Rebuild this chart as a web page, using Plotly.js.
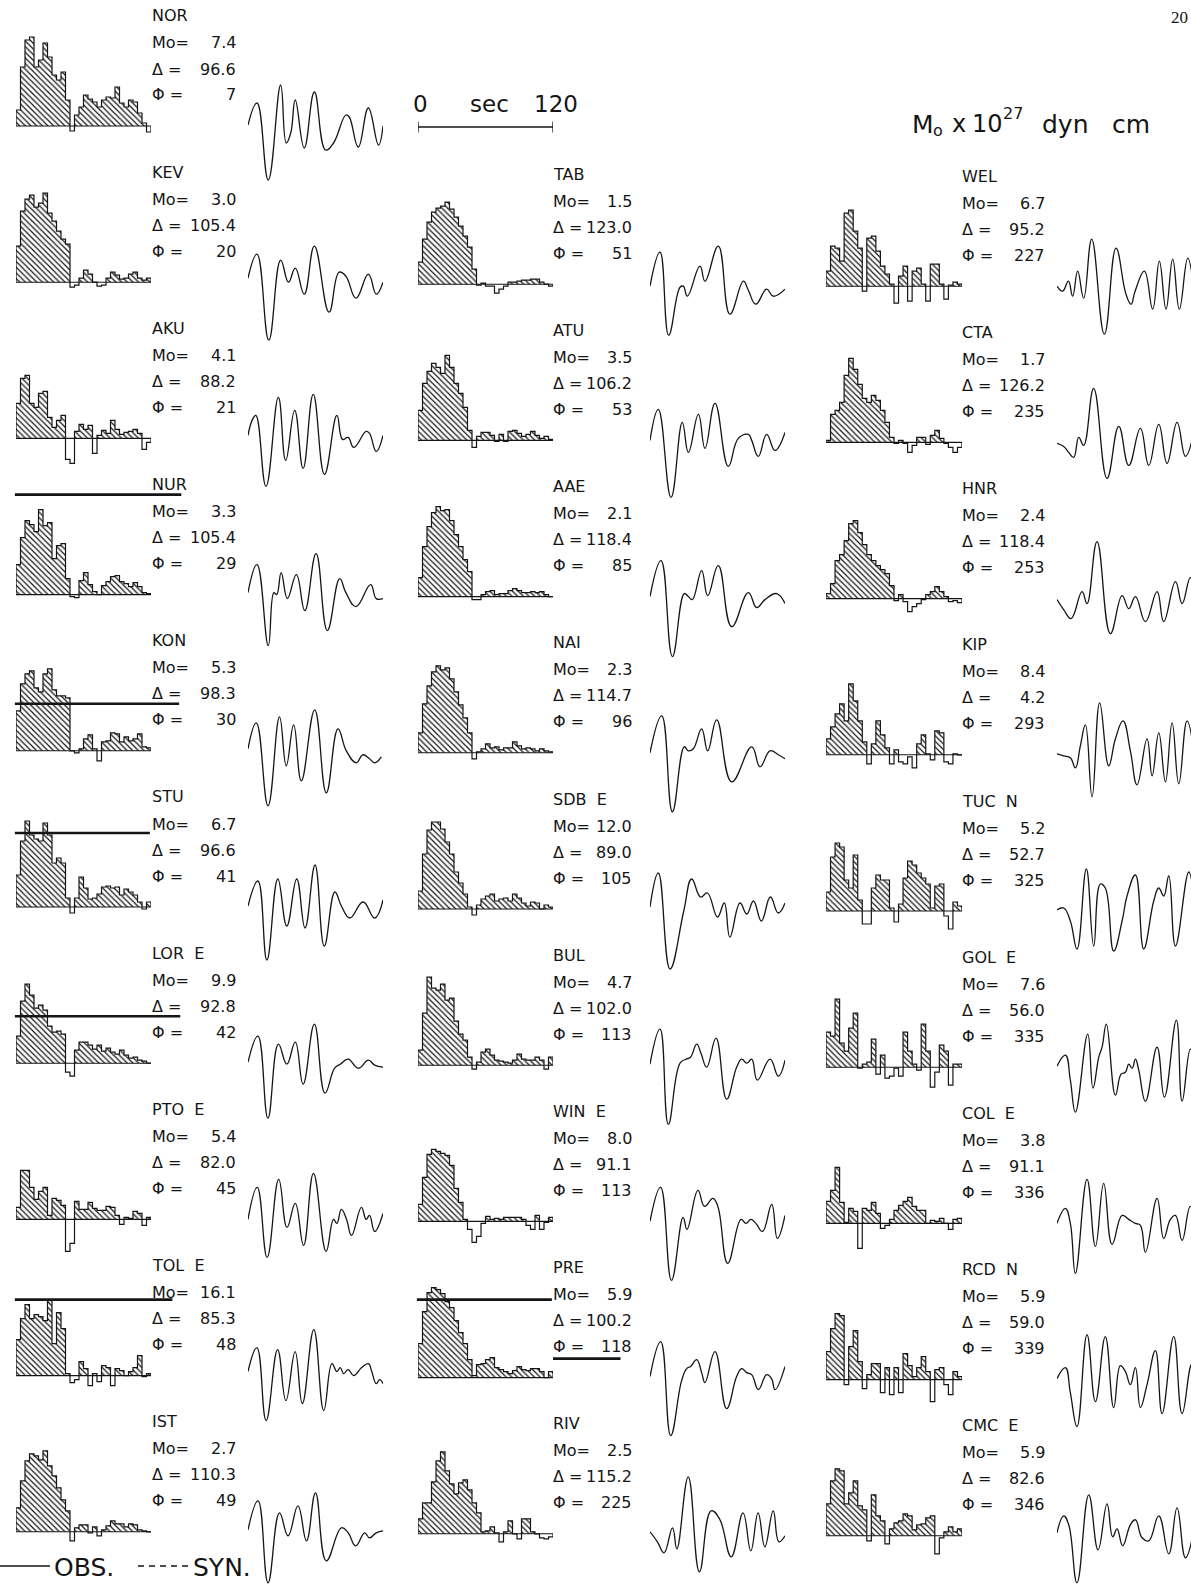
<!DOCTYPE html>
<html><head><meta charset="utf-8">
<script src="https://cdn.plot.ly/plotly-3.0.1.min.js"></script>
<style>html,body{margin:0;padding:0;background:#fff;}#chart{width:1191px;height:1585px;}</style>
</head><body><div id="chart"></div>
<script>
// ---------------- DATA ----------------
const stations = ['NOR','KEV','AKU','NUR','KON','STU','LOR','PTO','TOL','IST',
                  'TAB','ATU','AAE','NAI','SDB','BUL','WIN','PRE','RIV',
                  'WEL','CTA','HNR','KIP','TUC','GOL','COL','RCD','CMC'];
const components = ['','','','','','','E','E','E','',
                    '','','','','E','','E','','',
                    '','','','','N','E','E','N','E'];
const moValues = ['7.4','3.0','4.1','3.3','5.3','6.7','9.9','5.4','16.1','2.7',
                  '1.5','3.5','2.1','2.3','12.0','4.7','8.0','5.9','2.5',
                  '6.7','1.7','2.4','8.4','5.2','7.6','3.8','5.9','5.9'];
const deltaValues = ['96.6','105.4','88.2','105.4','98.3','96.6','92.8','82.0','85.3','110.3',
                     '123.0','106.2','118.4','114.7','89.0','102.0','91.1','100.2','115.2',
                     '95.2','126.2','118.4','4.2','52.7','56.0','91.1','59.0','82.6'];
const phiValues = ['7','20','21','29','30','41','42','45','48','49',
                   '51','53','85','96','105','113','113','118','225',
                   '227','235','253','293','325','335','336','339','346'];

// source time functions, 4-s bins from 0 to 120 s
const stfNOR = [16,59,86,89,59,66,83,69,51,46,54,26,-5,11,19,31,27,24,19,26,29,28,39,23,19,26,24,13,3,-6];
const stfKEV = [36,71,83,87,75,79,89,69,61,51,43,38,-5,-3,4,12,8,0,-4,-3,4,10,7,3,4,8,10,4,2,4];
const stfAKU = [35,60,63,35,31,45,47,21,11,18,23,-21,-25,7,14,9,13,-15,3,8,5,18,9,4,6,7,9,5,-11,-4];
const stfNUR = [30,57,74,70,63,85,69,72,36,49,51,16,-2,-3,14,22,10,3,0,9,13,18,19,13,11,8,12,8,2,1];
const stfKON = [40,67,77,80,63,59,77,82,61,55,55,53,0,-2,2,12,16,2,-10,9,10,18,17,9,14,10,12,17,4,3];
const stfSTU = [32,66,86,72,68,66,84,72,44,49,44,9,-6,9,30,19,8,9,13,20,21,19,20,12,18,15,12,5,-2,5];
const stfLOR = [27,62,79,68,55,58,53,37,31,32,29,-9,-13,13,21,21,18,14,18,12,15,11,9,13,8,5,6,3,2,0];
const stfPTO = [12,49,49,32,20,28,32,4,21,19,14,-32,-24,18,10,10,17,11,9,9,13,12,4,-5,2,1,8,6,-6,2];
const stfTOL = [36,57,71,57,61,59,55,75,32,63,47,2,-7,-4,14,7,-10,2,-6,10,8,-10,7,5,0,4,8,20,-1,2];
const stfIST = [24,51,71,78,76,72,81,66,56,44,32,21,-9,4,7,7,-1,5,-4,2,6,11,8,8,5,8,7,2,1,0];
const stfTAB = [22,45,62,72,76,78,82,75,67,58,48,37,15,-1,1,-2,-2,-9,-5,-2,2,2,3,4,4,5,5,2,0,-2];
const stfATU = [30,57,69,77,73,67,85,73,57,47,33,10,-7,4,8,8,5,-1,6,-1,9,10,7,4,6,9,5,2,4,1];
const stfAAE = [19,50,70,84,90,86,87,76,62,50,37,25,-3,-3,2,5,6,2,3,3,6,8,6,4,4,5,4,5,2,0];
const stfNAI = [20,49,67,81,87,83,85,74,61,48,35,20,-6,1,4,9,5,6,3,5,5,11,7,4,5,4,2,4,2,1];
const stfSDB = [18,55,79,87,87,80,67,55,37,26,15,2,-6,4,10,13,15,8,10,11,8,15,11,6,3,7,6,0,4,2];
const stfBUL = [15,52,88,77,75,81,65,67,44,31,25,8,-4,3,13,16,10,5,4,3,2,5,11,6,5,5,8,5,-4,8];
const stfWIN = [17,44,67,72,70,68,66,56,33,19,2,-8,-21,-15,-2,5,2,3,2,4,4,4,4,2,-4,-8,6,-8,-1,4];
const stfPRE = [34,66,85,90,88,84,76,70,57,45,34,18,2,13,14,18,20,10,8,6,4,7,11,8,7,9,9,6,0,6];
const stfRIV = [15,31,31,52,73,82,63,50,40,51,54,44,31,21,2,3,7,1,-8,2,13,0,-5,15,15,2,0,-4,-5,-3];
const stfWEL = [15,40,38,25,73,76,55,38,-5,48,50,35,20,12,2,-17,10,20,-15,15,18,2,-15,22,22,2,-13,1,4,2];
const stfCTA = [2,28,32,40,67,84,73,58,44,40,47,42,32,20,5,-1,2,-1,-10,-3,5,5,-2,7,12,4,-1,-5,-10,-5];
const stfHNR = [5,15,38,44,58,75,78,66,54,44,38,33,29,25,13,-2,4,-3,-13,-8,-5,-1,4,7,12,7,2,-3,-2,-4];
const stfKIP = [16,28,41,51,34,71,54,34,13,-9,11,34,20,7,-9,5,-7,-9,-2,-13,11,20,1,-5,24,22,-7,-9,1,0];
const stfTUC = [19,54,68,64,31,23,56,11,-13,-13,23,36,31,31,3,-11,7,33,50,46,38,33,27,3,25,27,-5,-18,9,5];
const stfGOL = [35,31,68,24,16,39,54,-1,3,5,28,-7,12,-11,-9,-1,-9,35,16,3,-3,43,16,-20,-5,22,16,-18,3,3];
const stfCOL = [22,33,56,21,1,15,12,-25,15,13,21,10,-5,-2,4,13,18,22,26,17,13,13,0,3,2,5,0,-6,4,5];
const stfRCD = [28,51,66,64,-5,33,49,18,-9,5,16,16,-13,12,-15,12,-13,26,14,3,12,23,8,-22,10,12,-5,-15,8,3];
const stfCMC = [32,55,67,65,32,43,55,30,26,-5,41,20,15,-8,7,13,15,22,20,6,11,12,18,20,-18,-2,4,9,4,7];

// observed waveforms: times (s) and amplitudes at turning points
const obsT_NOR = [0,8,18,29,34,38,42,50,59,69,76,87,90,98,107,116,120];
const obsA_NOR = [1,23,-54,41,-17,-7,26,-22,34,-24,-17,11,9,-21,18,-19,0];
const obsT_KEV = [0,8,18.5,29,36,42,50,59,72,81,87,96,107,114,120];
const obsA_KEV = [4,28,-58,22,0,14,-12,36,-30,10,6,-16,8,-12,0];
const obsT_AKU = [0,4,7,16,27,33.5,41.5,49,58,68,79,84,89,94,105,108,114,120];
const obsA_AKU = [3,19,23,-48,41,-22,28,-30,44,-36,23,-1,1,-9,7,5,-13,3];
const obsT_NUR = [0,8,18,23,25.5,29.5,35,43,50.5,60.5,70.5,81.5,87,96,109,114,120];
const obsA_NUR = [2,30,-51,2,0,22,-4,20,-16,41,-36,16,2,-12,10,-4,-4];
const obsT_KON = [0,7.4,17.8,28,34,40.6,47.4,59.3,69.6,80,87.4,96.3,102,108,112.6,118.5];
const obsA_KON = [2,28,-55,34,-15,26,-30,41,-42,22,0,-12,-4,-8,-12,-6];
const obsT_STU = [0,8.8,16.8,26.5,34.5,43.3,50.7,59.6,67.8,77.2,83,90.5,102.3,112.6,120];
const obsA_STU = [1,26,-53,28,-19,28,-21,42,-39,15,1,-11,5,-11,7];
const obsT_LOR = [0,8.8,17.7,27,34.5,42,49,59,68.4,77,82,89,98,107,112.6,120];
const obsA_LOR = [1,27,-55,19,-1,21,-21,39,-30,-5,-1,4,-5,3,-2,-4];
const obsT_PTO = [0,8.2,17,27.3,34.7,42,49.4,58.2,69.4,76,79,83,87.6,92,100.8,105,108,112.6,120];
const obsA_PTO = [0,32,-38,40,-8,16,-26,46,-32,0,-4,10,0,-16,12,0,4,-12,6];
const obsT_TOL = [0,7.9,16.1,26.3,33.7,41.9,48.3,58.5,67.3,74.6,79,82,85,89,94,101,107,110,114,117,120];
const obsA_TOL = [4,28,-45,26,-25,24,-28,46,-35,12,4,8,2,6,0,8,12,4,-8,-4,-8];
const obsT_IST = [0,8.9,17.8,28,35.6,44.4,52,60,69.6,83,89,95.7,103.7,108,114,120];
const obsA_IST = [2,31,-51,19,-4,26,-9,39,-29,4,-1,-14,-1,-6,-1,1];
const obsT_TAB = [0,8.9,16.6,26.7,29.6,33.2,44.4,48.9,60.7,71,83,87.4,94,103.7,109.6,120];
const obsA_TAB = [-2,32,-51,-3,-2,-12,18,3,38,-30,3,-6,-20,-5,-12,-5];
const obsT_ATU = [0,7.4,18.7,28.7,34.1,43,48.9,57.8,69.6,78.5,87.4,90.4,96.3,103.7,111.1,120];
const obsA_ATU = [0,31,-57,18,-12,26,-8,37,-26,2,6,0,-16,6,-10,8];
const obsT_AAE = [0,9.8,19.9,30.5,34.1,37.6,45.9,51.3,60.7,72.6,87.4,94.8,102.2,112.6,120];
const obsA_AAE = [0,36,-60,3,0,-3,26,1,31,-30,4,-11,-3,3,-7];
const obsT_NAI = [0,10.4,19.9,30.5,34.1,38.5,45.9,51.3,59.3,72.6,90.4,97.8,106.7,114.1,120];
const obsA_NAI = [0,37,-59,6,2,4,24,2,33,-29,6,-14,2,-2,-6];
const obsT_SDB = [0,7.4,17.8,30,37,45,51,60,66,71,80,86,92,99,107,114,120];
const obsA_SDB = [2,36,-60,-2,30,12,16,-8,6,-28,6,-5,8,-12,12,-4,6];
const obsT_BUL = [0,8.9,16.3,26.7,32,36,41.5,45.3,50.4,58.7,68.1,77,81.5,86,90.4,95.4,106.7,114.1,120];
const obsA_BUL = [1,36,-59,2,6,8,21,12,-2,27,-34,-2,6,2,6,-15,6,-11,5];
const obsT_WIN = [0,9.4,19.1,29.4,32.9,42.6,48.5,55.9,60.3,69.1,80.9,85.3,89.7,94.1,100,108.2,113.2,120];
const obsA_WIN = [0,34,-59,4,-8,31,15,23,15,-42,2,-2,2,-2,-10,17,-17,6];
const obsT_PRE = [0,9.5,18.4,28.1,32.6,36.1,41.5,45.9,48.9,57.8,68.1,77,81.5,85.9,90.4,96.3,103.7,108.1,111.1,120];
const obsA_PRE = [1,36,-58,-3,9,11,18,5,-5,26,-31,1,9,5,3,-12,3,-1,-12,11];
const obsT_RIV = [0,6.6,12.5,20,23.9,34,43.9,54.3,61.8,72.2,82.7,89.6,96.1,102.1,109.5,114.6,120];
const obsA_RIV = [2,-8,-19,6,-15,57,-38,23,15,-23,21,-17,21,-13,23,-8,-2];
const obsT_WEL = [0,4.9,9.9,13.6,18,23.2,30.2,41.2,51.3,60,64.4,67.9,76,83.2,89,94.8,100.6,106.4,113.7,119.5];
const obsA_WEL = [0,-5,5,-10,15,-12,47,-48,38,-8,-18,-5,15,-23,25,-23,27,-23,28,-10];
const obsT_CTA = [0,5.8,10.2,14.5,18.9,23.2,31.9,43.5,53.7,62.4,72.5,79.8,88.5,95.7,104.4,111.7,118.9];
const obsA_CTA = [-1,-4,-10,-15,5,-3,54,-36,16,-23,14,-23,18,-21,20,-14,10];
const obsT_HNR = [0,5.8,12.2,21.8,26.1,34.8,46.4,56.6,62.4,68.2,76.9,87,92.8,103,108.8,116,121.8];
const obsA_HNR = [-1,-11,-20,7,-5,57,-35,3,-10,2,-23,7,-23,17,-5,21,0];
const obsT_KIP = [0,5.8,11.6,16,20.3,24.7,30.5,37.1,45,50.8,57.4,63.8,69.6,78.3,82.7,88.5,94.3,100.1,105.9,113.1,120.4];
const obsA_KIP = [1,-1,-3,-13,9,30,-42,52,-11,16,34,4,-30,16,-21,22,-27,32,-29,34,-10];
const obsT_TUC = [0,5.8,11.6,17.4,25.5,31.9,37.7,42,49.3,56.6,60.9,68.2,75.4,84.1,88.5,92.8,97.2,103,114.6,120.4];
const obsA_TUC = [1,3,-10,-38,42,-35,27,23,-40,-10,15,36,-38,10,23,15,35,-35,39,-20];
const obsT_GOL = [0,7.3,11.6,16,26.7,31.3,36.3,39.2,42.9,50.8,55.7,59.5,62.4,65.3,68.2,71.1,76.9,87,93.4,103.8,108.8,116,121.8];
const obsA_GOL = [1,12,-13,-45,33,-21,10,20,43,-28,-7,-5,3,-1,8,-3,-34,20,-30,47,-34,18,-10];
const obsT_COL = [0,7.3,11.6,16,26.1,33.4,40.6,47.9,56.6,62.4,68.2,72.5,76.9,87,92.8,98.6,103,108.8,116,123];
const obsA_COL = [0,15,0,-50,44,-23,40,-21,8,4,0,-2,-29,25,-15,4,8,-17,17,-5];
const obsT_RCD = [0,7.3,11.6,17.4,26.1,33.4,42,49.3,55.1,59.5,63.8,68.2,72.5,78.3,85.6,91.4,101.5,108.8,117.5,123];
const obsA_RCD = [1,12,-13,-47,45,-22,43,-28,14,8,-5,12,-28,-5,29,-34,43,-34,16,0];
const obsT_CMC = [0,5.8,10.2,17.4,27.6,35.7,43.5,48.4,52.2,57.1,63.8,68.2,74,79.8,88.5,97.2,104.4,111.7,118.9];
const obsA_CMC = [3,20,11,-47,41,-14,32,-1,7,-10,11,16,-2,-5,20,-18,28,-22,5];

// heavy reference rules drawn across some panels: [station, level, t start, t end]
const ruleLines = [['NUR',100,-1,147],['KON',47,-1,145],['STU',74,-1,119],['LOR',47,-1,146],
                   ['TOL',76,-1,139],['PRE',78,-1,119],['PRE',19,120,180]];
const scaleTicks = [0, 120];
const scaleUnit = 'sec';
// unit label pieces: text, font size, baseline shift (px, + = down)
const unitPieces = [['M',25,0],['o',16,7],['x',24,0],['10',24,0],['27',16,-11],['dyn',25,0],['cm',25,0]];

// ---------------- BUILD ----------------
const stfMap = {NOR:stfNOR,KEV:stfKEV,AKU:stfAKU,NUR:stfNUR,KON:stfKON,STU:stfSTU,LOR:stfLOR,PTO:stfPTO,TOL:stfTOL,IST:stfIST,
  TAB:stfTAB,ATU:stfATU,AAE:stfAAE,NAI:stfNAI,SDB:stfSDB,BUL:stfBUL,WIN:stfWIN,PRE:stfPRE,RIV:stfRIV,
  WEL:stfWEL,CTA:stfCTA,HNR:stfHNR,KIP:stfKIP,TUC:stfTUC,GOL:stfGOL,COL:stfCOL,RCD:stfRCD,CMC:stfCMC};
const obsTMap = {NOR:obsT_NOR,KEV:obsT_KEV,AKU:obsT_AKU,NUR:obsT_NUR,KON:obsT_KON,STU:obsT_STU,LOR:obsT_LOR,PTO:obsT_PTO,TOL:obsT_TOL,IST:obsT_IST,
  TAB:obsT_TAB,ATU:obsT_ATU,AAE:obsT_AAE,NAI:obsT_NAI,SDB:obsT_SDB,BUL:obsT_BUL,WIN:obsT_WIN,PRE:obsT_PRE,RIV:obsT_RIV,
  WEL:obsT_WEL,CTA:obsT_CTA,HNR:obsT_HNR,KIP:obsT_KIP,TUC:obsT_TUC,GOL:obsT_GOL,COL:obsT_COL,RCD:obsT_RCD,CMC:obsT_CMC};
const obsAMap = {NOR:obsA_NOR,KEV:obsA_KEV,AKU:obsA_AKU,NUR:obsA_NUR,KON:obsA_KON,STU:obsA_STU,LOR:obsA_LOR,PTO:obsA_PTO,TOL:obsA_TOL,IST:obsA_IST,
  TAB:obsA_TAB,ATU:obsA_ATU,AAE:obsA_AAE,NAI:obsA_NAI,SDB:obsA_SDB,BUL:obsA_BUL,WIN:obsA_WIN,PRE:obsA_PRE,RIV:obsA_RIV,
  WEL:obsA_WEL,CTA:obsA_CTA,HNR:obsA_HNR,KIP:obsA_KIP,TUC:obsA_TUC,GOL:obsA_GOL,COL:obsA_COL,RCD:obsA_RCD,CMC:obsA_CMC};

const W = 1191, H = 1585;
const ROW0 = 16, PITCH = 156.2, BASE = 110, TOPV = 100, BELOW = 75;
const colGeo = [
  {hx0:16,  hx1:151, tx:150, vx:238,  wx0:248,  wx1:383,  dy:0, first:0, n:10, row0:0},
  {hx0:418, hx1:553, tx:551, vx:634,  wx0:650,  wx1:785,  dy:2, first:10, n:9, row0:1},
  {hx0:826, hx1:962, tx:960, vx:1047, wx0:1057, wx1:1195, dy:4, first:19, n:9, row0:1}
];
const FONT = 'DejaVu Sans, Liberation Sans, Arial, sans-serif';
const INK = '#151515';
const ax = (p,id)=> id===1 ? p+'axis' : p+'axis'+id;
const rf = (p,id)=> id===1 ? p : p+id;
const px = v => v / W;
const py = v => 1 - v / H;

const traces = [];
const layout = {
  width: W, height: H, margin:{l:0,r:0,t:0,b:0,pad:0}, showlegend:false,
  paper_bgcolor:'#ffffff', plot_bgcolor:'rgba(0,0,0,0)',
  annotations:[], shapes:[], font:{family:FONT, color:INK}
};
const panelInfo = {};
let k = 0;
colGeo.forEach(g=>{
  for (let j=0;j<g.n;j++){
    const si = g.first + j;
    const st = stations[si];
    const row = g.row0 + j;
    const L = ROW0 + PITCH*row + g.dy;
    k += 1;
    const yId = k, xhId = 2*k-1, xwId = 2*k;
    const top = L + BASE - TOPV;
    const bot = Math.min(L + BASE + BELOW, H);
    const ymin = -(bot - (L + BASE));
    layout[ax('y',yId)] = {domain:[py(bot), py(top)], range:[ymin, TOPV], visible:false, fixedrange:true, anchor:rf('x',xhId)};
    layout[ax('x',xhId)] = {domain:[px(g.hx0), px(g.hx1)], range:[0,120], visible:false, fixedrange:true, anchor:rf('y',yId)};
    const wEnd = Math.min(g.wx1, W);
    layout[ax('x',xwId)] = {domain:[px(g.wx0), px(wEnd)], range:[0, 120*(wEnd-g.wx0)/(g.wx1-g.wx0)], visible:false, fixedrange:true, anchor:rf('y',yId)};
    panelInfo[st] = {g, L};

    const v = stfMap[st];
    const xs = [0].concat(v.map((_,i)=>4*i)).concat([120]);
    const ys = [0].concat(v).concat([0]);
    const ysPos = ys.map(a=>Math.max(0,a));
    const xr = rf('x',xhId), yr = rf('y',yId);
    traces.push({type:'scatter', mode:'lines', x:xs, y:ysPos, xaxis:xr, yaxis:yr,
      line:{shape:'hv', width:0, color:'rgba(0,0,0,0)'}, fill:'tozeroy', fillcolor:'rgba(0,0,0,0)',
      fillpattern:{shape:'\\', size:4, solidity:0.3, fgcolor:INK, bgcolor:'rgba(255,255,255,0)'},
      hoverinfo:'skip'});
    traces.push({type:'scatter', mode:'lines', x:xs, y:ys, xaxis:xr, yaxis:yr,
      line:{shape:'hv', width:1.2, color:INK}, hoverinfo:'skip'});
    traces.push({type:'scatter', mode:'lines', x:[0,120], y:[0,0], xaxis:xr, yaxis:yr,
      line:{width:1.1, color:INK}, hoverinfo:'skip'});
    traces.push({type:'scatter', mode:'lines', x:obsTMap[st], y:obsAMap[st], xaxis:rf('x',xwId), yaxis:yr,
      line:{shape:'spline', smoothing:1.25, width:1.3, color:INK}, hoverinfo:'skip'});

    const lab = components[si] ? st + '\u00a0\u00a0' + components[si] : st;
    const fnt = {family:FONT, size:16, color:INK};
    const A = (x,y,text,anchor)=>layout.annotations.push({xref:'paper', yref:'paper', x:px(x), y:py(y), text,
      xanchor:anchor, yanchor:'middle', showarrow:false, font:fnt});
    A(g.tx, L, lab, 'left');
    A(g.tx, L+27, 'Mo=', 'left');   A(g.vx, L+27, moValues[si], 'right');
    A(g.tx, L+53, '\u0394 =', 'left'); A(g.vx, L+53, deltaValues[si], 'right');
    A(g.tx, L+79, '\u03a6 =', 'left'); A(g.vx, L+79, phiValues[si], 'right');
  }
});

// heavy rules
ruleLines.forEach(r=>{
  const p = panelInfo[r[0]]; if(!p) return;
  const g = p.g, sc = (g.hx1-g.hx0)/120;
  const yv = p.L + BASE - r[1];
  layout.shapes.push({type:'line', xref:'paper', yref:'paper', x0:px(g.hx0 + r[2]*sc), x1:px(g.hx0 + r[3]*sc),
    y0:py(yv), y1:py(yv), line:{color:INK, width:2.6}});
});

// time scale bar (uses the same 0-120 s mapping as column 2 histograms)
const sId = 2*k+1, syId = k+1;
const sg = colGeo[1], ssc = (sg.hx1 - sg.hx0)/120;
layout[ax('x',sId)] = {domain:[px(sg.hx0), px(sg.hx1)], range:[0,120], visible:false, fixedrange:true, anchor:rf('y',syId)};
layout[ax('y',syId)] = {domain:[py(134), py(120)], range:[-1,1], visible:false, fixedrange:true, anchor:rf('x',sId)};
traces.push({type:'scatter', mode:'lines', xaxis:rf('x',sId), yaxis:rf('y',syId),
  x:[scaleTicks[0],scaleTicks[0],null,scaleTicks[0],scaleTicks[1],null,scaleTicks[1],scaleTicks[1]],
  y:[-0.8,0.8,null,0,0,null,-0.8,0.8], line:{color:INK, width:1.3}, hoverinfo:'skip'});
const bigF = {family:FONT, size:23, color:INK};
layout.annotations.push({xref:'paper', yref:'paper', x:px(sg.hx0 + scaleTicks[0]*ssc + 2), y:py(104), text:String(scaleTicks[0]), showarrow:false, xanchor:'center', yanchor:'middle', font:bigF});
layout.annotations.push({xref:'paper', yref:'paper', x:px(sg.hx0 + (scaleTicks[0]+scaleTicks[1])/2*ssc + 4), y:py(104), text:scaleUnit, showarrow:false, xanchor:'center', yanchor:'middle', font:bigF});
layout.annotations.push({xref:'paper', yref:'paper', x:px(sg.hx0 + scaleTicks[1]*ssc + 3), y:py(104), text:String(scaleTicks[1]), showarrow:false, xanchor:'center', yanchor:'middle', font:bigF});

// unit label, drawn piece by piece (subscript / superscript placed by hand)
const unitX = [910, 931, 950, 970, 1001, 1040, 1110];
unitPieces.forEach((p,i)=>{
  layout.annotations.push({xref:'paper', yref:'paper', x:px(unitX[i]), y:py(124 + p[2]), xanchor:'left', yanchor:'middle',
    showarrow:false, text:p[0], font:{family:FONT, size:p[1], color:INK}});
});
// page number at the top-right edge
layout.annotations.push({xref:'paper', yref:'paper', x:px(W-1), y:py(17), xanchor:'right', yanchor:'middle', showarrow:false,
  text:'20', font:{family:'Liberation Serif, DejaVu Serif, serif', size:17, color:INK}});

// legend
layout.shapes.push({type:'line', xref:'paper', yref:'paper', x0:px(0), x1:px(50), y0:py(1566), y1:py(1566), line:{color:INK, width:1.4}});
layout.shapes.push({type:'line', xref:'paper', yref:'paper', x0:px(138), x1:px(190), y0:py(1566), y1:py(1566), line:{color:INK, width:1.4, dash:'6px,5px'}});
layout.annotations.push({xref:'paper', yref:'paper', x:px(52), y:py(1567), xanchor:'left', yanchor:'middle', showarrow:false, text:'OBS.', font:{family:FONT, size:25, color:INK}});
layout.annotations.push({xref:'paper', yref:'paper', x:px(191), y:py(1567), xanchor:'left', yanchor:'middle', showarrow:false, text:'SYN.', font:{family:FONT, size:25, color:INK}});

Plotly.newPlot('chart', traces, layout, {staticPlot:true, displayModeBar:false});
</script></body></html>
